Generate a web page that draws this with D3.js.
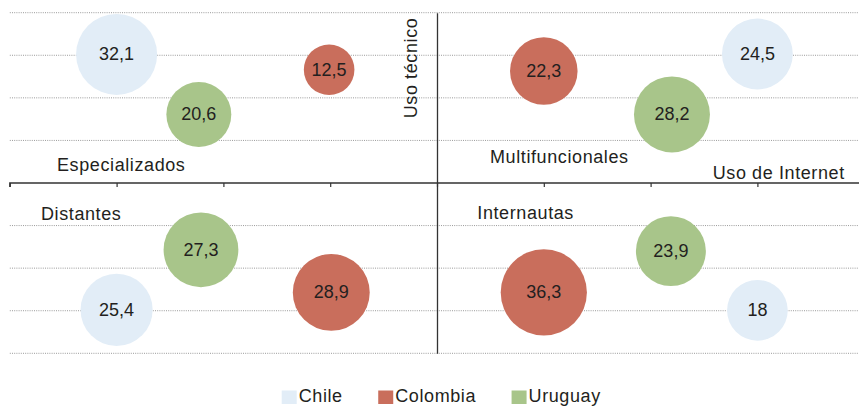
<!DOCTYPE html>
<html>
<head>
<meta charset="utf-8">
<script src="https://cdn.jsdelivr.net/npm/d3@7"></script>
<style>
  html, body { margin: 0; padding: 0; background: #fff; }
  svg { display: block; font-family: "Liberation Sans", Arial, Helvetica, sans-serif; }
</style>
</head>
<body>
<svg id="chart" width="859" height="406"></svg>
<script>
// ---- data ----
const countries = ["Chile", "Colombia", "Uruguay"];
const colors = ["#e2edf7", "#c96e5c", "#a8c58a"];
const quadrants = ["Especializados", "Multifuncionales", "Distantes", "Internautas"];
// values per country, in quadrant order
const chileValues    = [32.1, 24.5, 25.4, 18];
const colombiaValues = [12.5, 22.3, 28.9, 36.3];
const uruguayValues  = [20.6, 28.2, 27.3, 23.9];
const valueLabels = {
  Chile: ["32,1", "24,5", "25,4", "18"],
  Colombia: ["12,5", "22,3", "28,9", "36,3"],
  Uruguay: ["20,6", "28,2", "27,3", "23,9"]
};
// bubble positions in axis units (x: Uso de Internet, y: Uso técnico)
const chileX    = [-3, 3, -3, 3];
const chileY    = [3.02, 3.03, -2.98, -2.99];
const colombiaX = [-1.01, 1.0, -0.99, 1.0];
const colombiaY = [2.66, 2.63, -2.57, -2.57];
const uruguayX  = [-2.23, 2.2, -2.21, 2.19];
const uruguayY  = [1.61, 1.61, -1.57, -1.6];
const xTicks = [-4, -3, -2, -1, 0, 1, 2, 3, 4];
const yGrid = [-4, -3, -2, -1, 1, 2, 3, 4];
const axisLabels = { x: "Uso de Internet", y: "Uso técnico" };

// ---- build records ----
const valueSets = [chileValues, colombiaValues, uruguayValues];
const xSets = [chileX, colombiaX, uruguayX];
const ySets = [chileY, colombiaY, uruguayY];
const bubbles = [];
quadrants.forEach((q, qi) => {
  countries.forEach((c, ci) => {
    bubbles.push({ country: c, color: colors[ci], quadrant: q,
      value: valueSets[ci][qi], label: valueLabels[c][qi],
      x: xSets[ci][qi], y: ySets[ci][qi] });
  });
});

// ---- scales ----
const svg = d3.select("#chart");
const x = d3.scaleLinear().domain([-4, 4]).range([9.8, 864.2]);
const y = d3.scaleLinear().domain([-4, 4]).range([353.3, 12.7]);
const r = d3.scaleSqrt().domain([0, 36.3]).range([0, 43.1]);

const textColor = "#231f20";

// grid lines (dotted)
svg.append("g").selectAll("line").data(yGrid).join("line")
  .attr("x1", x(-4)).attr("x2", 859)
  .attr("y1", d => y(d)).attr("y2", d => y(d))
  .attr("stroke", "#9a9a9a").attr("stroke-width", 1)
  .attr("stroke-dasharray", "1,1.2");

// horizontal axis with ticks
const xAxis = d3.axisBottom(x).tickValues(xTicks).tickSize(4).tickFormat("");
const gx = svg.append("g").attr("transform", `translate(0,${y(0)})`).call(xAxis);
gx.select(".domain").attr("d", `M${x(-4)},4V0H${x(4)}`).attr("stroke", "#333").attr("stroke-width", 1.3);
gx.selectAll(".tick line").attr("stroke", "#333").attr("stroke-width", 1.2);

// vertical axis
const yAxis = d3.axisLeft(y).tickValues([]).tickSizeOuter(0);
const gy = svg.append("g").attr("transform", `translate(${x(0)},0)`).call(yAxis);
gy.select(".domain").attr("stroke", "#333").attr("stroke-width", 1.3);

// bubbles
const bg = svg.append("g");
bg.selectAll("circle").data(bubbles).join("circle")
  .attr("cx", d => x(d.x)).attr("cy", d => y(d.y))
  .attr("r", d => r(d.value)).attr("fill", d => d.color);
bg.selectAll("text").data(bubbles).join("text")
  .attr("x", d => x(d.x)).attr("y", d => y(d.y) + 5.8)
  .attr("text-anchor", "middle").attr("font-size", "18px")
  .attr("fill", textColor).text(d => d.label);

// quadrant labels
const labelStyle = sel => sel.attr("font-size", "18px").attr("letter-spacing", "0.6px").attr("fill", textColor);
const qLabelPos = [
  { t: quadrants[0], x: 57, y: 170.7 },
  { t: quadrants[1], x: 490, y: 162.7 },
  { t: quadrants[2], x: 41, y: 220 },
  { t: quadrants[3], x: 477.3, y: 219.3 },
  { t: axisLabels.x, x: 712.7, y: 178.5 }
];
svg.append("g").selectAll("text").data(qLabelPos).join("text")
  .attr("x", d => d.x).attr("y", d => d.y).text(d => d.t).call(labelStyle);

svg.append("text")
  .attr("transform", "translate(416.5,118.3) rotate(-90)")
  .text(axisLabels.y).call(labelStyle);

// legend
const lg = svg.append("g");
let lx = 281.7;
countries.forEach((c, i) => {
  lg.append("rect").attr("x", lx).attr("y", 390.5).attr("width", 15).attr("height", 13.5).attr("fill", colors[i]);
  const t = lg.append("text").attr("x", lx + 17).attr("y", 401.8).text(c).call(labelStyle);
  lx = lx + 17 + t.node().getComputedTextLength() + 35.5;
});
</script>
</body>
</html>
